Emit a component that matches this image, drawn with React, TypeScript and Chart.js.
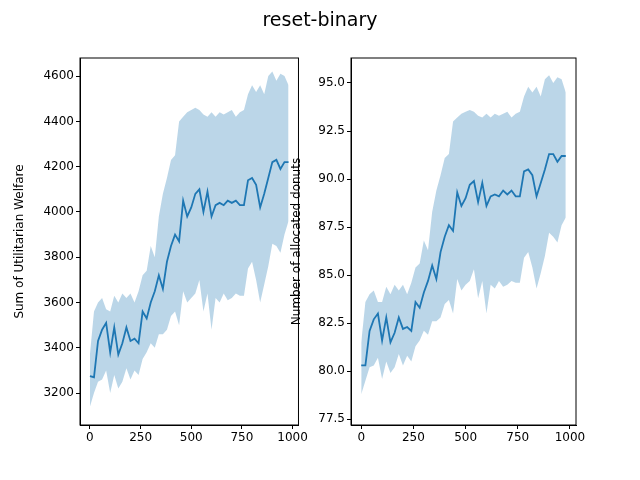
import { useEffect, useRef } from 'react'
import { Chart, registerables } from 'chart.js'

Chart.register(...registerables)

const steps = [0, 20, 40, 60, 80, 100, 120, 140, 160, 180, 200, 220, 240, 260, 280, 300, 320, 340, 360, 380, 400, 420, 440, 460, 480, 500, 520, 540, 560, 580, 600, 620, 640, 660, 680, 700, 720, 740, 760, 780, 800, 820, 840, 860, 880, 900, 920, 940, 960, 980]

const welfareMean = [3275, 3270, 3430, 3480, 3510, 3380, 3490, 3370, 3420, 3490, 3430, 3440, 3420, 3560, 3530, 3600, 3650, 3720, 3660, 3780, 3850, 3900, 3870, 4050, 3980, 4020, 4080, 4100, 4000, 4090, 3980, 4030, 4040, 4030, 4050, 4040, 4050, 4030, 4030, 4140, 4150, 4120, 4020, 4080, 4150, 4220, 4230, 4190, 4220, 4220]
const welfareLow = [3140, 3200, 3250, 3260, 3300, 3200, 3280, 3220, 3250, 3310, 3260, 3300, 3280, 3350, 3380, 3420, 3400, 3460, 3460, 3480, 3540, 3560, 3500, 3650, 3600, 3620, 3640, 3700, 3560, 3640, 3480, 3620, 3600, 3640, 3610, 3620, 3640, 3630, 3630, 3750, 3780, 3700, 3600, 3680, 3760, 3860, 3850, 3820, 3900, 3960]
const welfareHigh = [3370, 3560, 3600, 3620, 3570, 3560, 3630, 3600, 3640, 3620, 3640, 3600, 3650, 3720, 3740, 3850, 3800, 3980, 4080, 4150, 4230, 4250, 4400, 4420, 4440, 4450, 4460, 4450, 4430, 4420, 4440, 4420, 4440, 4430, 4440, 4450, 4420, 4440, 4450, 4520, 4560, 4530, 4560, 4520, 4600, 4620, 4580, 4610, 4600, 4560]

const donutsMean = [80.3, 80.3, 82.1, 82.7, 83.0, 81.6, 82.8, 81.5, 82.0, 82.8, 82.2, 82.3, 82.1, 83.6, 83.3, 84.1, 84.7, 85.5, 84.8, 86.2, 87.0, 87.6, 87.3, 89.3, 88.6, 89.0, 89.7, 89.9, 88.8, 89.8, 88.6, 89.1, 89.2, 89.1, 89.4, 89.2, 89.4, 89.1, 89.1, 90.4, 90.5, 90.2, 89.1, 89.8, 90.5, 91.3, 91.3, 90.9, 91.2, 91.2]
const donutsLow = [78.8, 79.5, 80.2, 80.3, 80.7, 79.6, 80.5, 79.9, 80.2, 80.9, 80.3, 80.8, 80.5, 81.3, 81.6, 82.1, 81.9, 82.6, 82.6, 82.8, 83.5, 83.7, 83.0, 84.8, 84.2, 84.5, 84.7, 85.3, 83.8, 84.7, 83.0, 84.5, 84.3, 84.7, 84.4, 84.5, 84.7, 84.6, 84.6, 85.9, 86.2, 85.4, 84.3, 85.1, 86.0, 87.2, 87.0, 86.7, 87.6, 88.0]
const donutsHigh = [81.5, 83.6, 84.0, 84.2, 83.6, 83.6, 84.4, 84.0, 84.5, 84.2, 84.5, 84.0, 84.6, 85.4, 85.6, 86.8, 86.3, 88.3, 89.4, 90.2, 91.1, 91.3, 93.0, 93.2, 93.4, 93.5, 93.6, 93.5, 93.3, 93.2, 93.4, 93.2, 93.4, 93.3, 93.4, 93.5, 93.2, 93.4, 93.5, 94.3, 94.8, 94.5, 94.8, 94.3, 95.2, 95.4, 95.0, 95.3, 95.2, 94.5]

const xTicks = [0, 250, 500, 750, 1000]

const font = { family: 'DejaVu Sans', size: 12 }
const band = 'rgba(31,119,180,0.3)'
const line = '#1f77b4'

const boxPlugin = {
  id: 'box',
  afterDraw(chart: any) {
    const { ctx, chartArea: a } = chart
    ctx.save()
    ctx.strokeStyle = '#000'
    ctx.lineWidth = 1
    ctx.strokeRect(a.left, a.top, a.right - a.left, a.bottom - a.top)
    ctx.restore()
  }
}

function Panel(props: {
  left: number; width: number; padLeft: number; axisWidth: number; padRight: number
  mean: number[]; low: number[]; high: number[]
  yMin: number; yMax: number; yStep: number; yTitle: string; decimals: number
}) {
  const ref = useRef<HTMLCanvasElement>(null)
  useEffect(() => {
    if (!ref.current) return
    const pts = (arr: number[]) => arr.map((v, i) => ({ x: steps[i], y: v }))
    const chart = new Chart(ref.current, {
      type: 'line',
      data: {
        datasets: [
          { data: pts(props.high), borderWidth: 0, pointRadius: 0, backgroundColor: band, fill: '+1' },
          { data: pts(props.low), borderWidth: 0, pointRadius: 0, fill: false },
          { data: pts(props.mean), borderColor: line, borderWidth: 1.8, pointRadius: 0, fill: false }
        ]
      } as any,
      options: {
        animation: false,
        responsive: false,
        layout: { padding: { top: 58, right: props.padRight, left: props.padLeft, bottom: 0 } },
        plugins: { legend: { display: false }, tooltip: { enabled: false } },
        scales: {
          x: {
            type: 'linear', min: -49, max: 1029,
            afterBuildTicks: (ax: any) => { ax.ticks = xTicks.map(v => ({ value: v })) },
            afterFit: (ax: any) => { ax.height = 55 },
            grid: { drawOnChartArea: false, color: '#000', tickLength: 4 },
            border: { color: '#000' },
            ticks: { color: '#000', font, maxRotation: 0, padding: 2, callback: (v: any) => String(v) }
          },
          y: {
            min: props.yMin, max: props.yMax,
            afterBuildTicks: (ax: any) => {
              const t = []
              for (let v = Math.ceil(props.yMin / props.yStep) * props.yStep; v <= props.yMax; v += props.yStep) t.push({ value: v })
              ax.ticks = t
            },
            afterFit: (ax: any) => { ax.width = props.axisWidth },
            grid: { drawOnChartArea: false, color: '#000', tickLength: 4 },
            border: { color: '#000' },
            title: { display: true, text: props.yTitle, color: '#000', font, padding: 0 },
            ticks: { color: '#000', font, padding: 2, callback: (v: any) => Number(v).toFixed(props.decimals) }
          }
        }
      } as any,
      plugins: [boxPlugin]
    })
    return () => chart.destroy()
  }, [])
  return <canvas ref={ref} width={props.width} height={480} style={{ position: 'absolute', left: props.left, top: 0 }} />
}

export default function App() {
  return (
    <div style={{ position: 'fixed', left: 0, top: 0, width: 640, height: 480, background: '#fff' }}>
      <Panel left={0} width={310} padLeft={13} axisWidth={67} padRight={5} mean={welfareMean} low={welfareLow} high={welfareHigh}
        yMin={3059} yMax={4680} yStep={200} yTitle="Sum of Utilitarian Welfare" decimals={0} />
      <Panel left={280} width={360} padLeft={10} axisWidth={61} padRight={64} mean={donutsMean} low={donutsLow} high={donutsHigh}
        yMin={77.2} yMax={96.3} yStep={2.5} yTitle="Number of allocated donuts" decimals={1} />
      <div style={{ position: 'absolute', left: 0, width: 640, top: 8, textAlign: 'center', fontFamily: 'DejaVu Sans', fontSize: 19 }}>reset-binary</div>
    </div>
  )
}
